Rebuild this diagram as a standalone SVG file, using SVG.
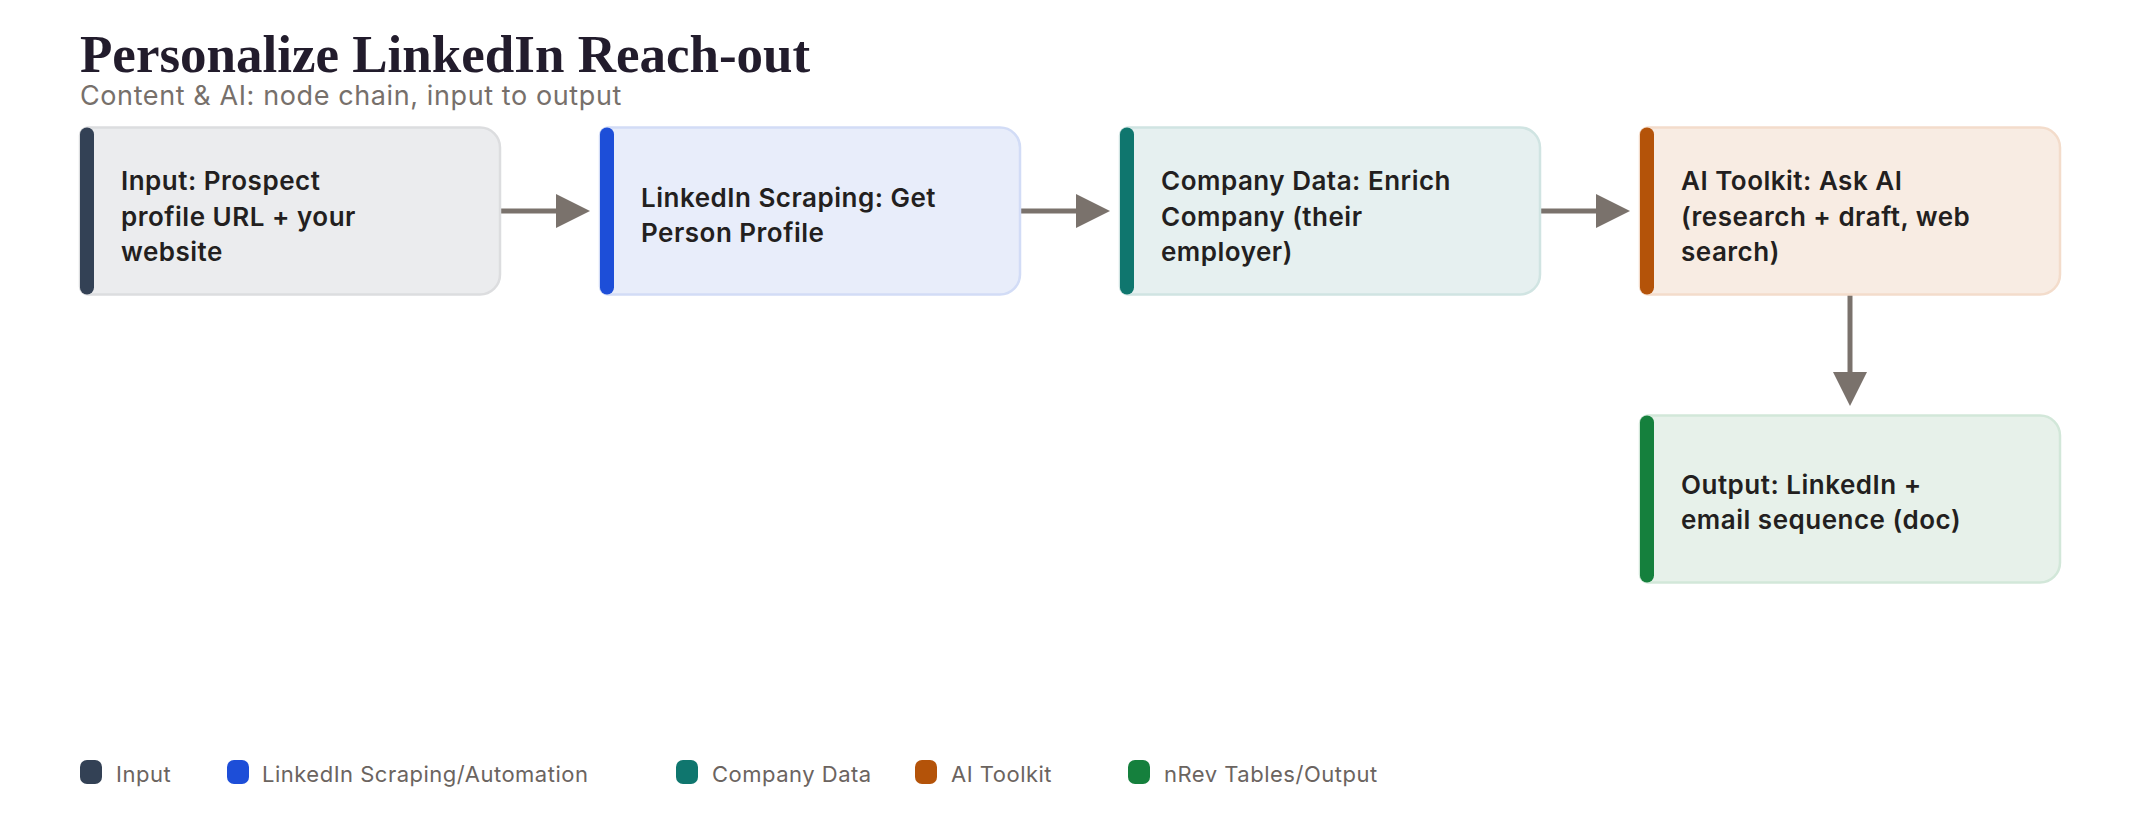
<svg xmlns="http://www.w3.org/2000/svg" width="2140" height="824" viewBox="0 0 2140 824">
  <defs>
    <marker id="ah" markerUnits="userSpaceOnUse" markerWidth="36" markerHeight="36" refX="1" refY="17" orient="auto">
      <path d="M0,0 L34,17 L0,34 Z" fill="#7a726c"/>
    </marker>
    <style>
      .title{font-family:"Liberation Serif","DejaVu Serif",serif;font-weight:700;font-size:53px;fill:#221c2c}
      .sub{font-family:Inter,"Noto Sans",sans-serif;font-size:27px;letter-spacing:0.6px;fill:#77706b}
      .lbl{font-family:Inter,"Noto Sans",sans-serif;font-weight:600;font-size:26px;letter-spacing:0.5px;fill:#231f20}
      .leg{font-family:Inter,"Noto Sans",sans-serif;font-size:22px;letter-spacing:0.5px;fill:#6b645f}
      .edge{stroke:#7a726c;stroke-width:5;fill:none}
      .box{stroke-width:2.5}
    </style>
  </defs>
  <rect width="2140" height="824" fill="#ffffff"/>
  <text class="title" x="80" y="72">Personalize LinkedIn Reach-out</text>
  <text class="sub" x="80" y="105">Content &amp; AI: node chain, input to output</text>

  <g id="connectors">
    <line class="edge" x1="500" y1="211" x2="557" y2="211" marker-end="url(#ah)"/>
    <line class="edge" x1="1020" y1="211" x2="1077" y2="211" marker-end="url(#ah)"/>
    <line class="edge" x1="1540" y1="211" x2="1597" y2="211" marker-end="url(#ah)"/>
    <line class="edge" x1="1850" y1="295" x2="1850" y2="373" marker-end="url(#ah)"/>
  </g>

  <g id="node-input">
    <path class="box" d="M88,127.5 H480 A20,20 0 0 1 500,147.5 V274.5 A20,20 0 0 1 480,294.5 H88 A8,8 0 0 1 80,286.5 V135.5 A8,8 0 0 1 88,127.5 Z" fill="#ebecee" stroke="#dcdddf"/>
    <rect x="80" y="127.5" width="14" height="167" rx="7" fill="#334155"/>
    <text class="lbl" x="121" y="190">Input: Prospect</text>
    <text class="lbl" x="121" y="225.5">profile URL + your</text>
    <text class="lbl" x="121" y="261">website</text>
  </g>

  <g id="node-linkedin">
    <path class="box" d="M608,127.5 H1000 A20,20 0 0 1 1020,147.5 V274.5 A20,20 0 0 1 1000,294.5 H608 A8,8 0 0 1 600,286.5 V135.5 A8,8 0 0 1 608,127.5 Z" fill="#e8edfa" stroke="#d2dcf6"/>
    <rect x="600" y="127.5" width="14" height="167" rx="7" fill="#1d4ed8"/>
    <text class="lbl" x="641" y="206.5">LinkedIn Scraping: Get</text>
    <text class="lbl" x="641" y="241.5">Person Profile</text>
  </g>

  <g id="node-company">
    <path class="box" d="M1128,127.5 H1520 A20,20 0 0 1 1540,147.5 V274.5 A20,20 0 0 1 1520,294.5 H1128 A8,8 0 0 1 1120,286.5 V135.5 A8,8 0 0 1 1128,127.5 Z" fill="#e6f0f0" stroke="#d0e4e2"/>
    <rect x="1120" y="127.5" width="14" height="167" rx="7" fill="#0f766e"/>
    <text class="lbl" x="1161" y="190">Company Data: Enrich</text>
    <text class="lbl" x="1161" y="225.5">Company (their</text>
    <text class="lbl" x="1161" y="261">employer)</text>
  </g>

  <g id="node-ai">
    <path class="box" d="M1648,127.5 H2040 A20,20 0 0 1 2060,147.5 V274.5 A20,20 0 0 1 2040,294.5 H1648 A8,8 0 0 1 1640,286.5 V135.5 A8,8 0 0 1 1648,127.5 Z" fill="#f8ece3" stroke="#f3dccb"/>
    <rect x="1640" y="127.5" width="14" height="167" rx="7" fill="#b45309"/>
    <text class="lbl" x="1681" y="190">AI Toolkit: Ask AI</text>
    <text class="lbl" x="1681" y="225.5">(research + draft, web</text>
    <text class="lbl" x="1681" y="261">search)</text>
  </g>

  <g id="node-output">
    <path class="box" d="M1648,415.5 H2040 A20,20 0 0 1 2060,435.5 V562.5 A20,20 0 0 1 2040,582.5 H1648 A8,8 0 0 1 1640,574.5 V423.5 A8,8 0 0 1 1648,415.5 Z" fill="#e7f1ea" stroke="#d2e7d9"/>
    <rect x="1640" y="415.5" width="14" height="167" rx="7" fill="#15803d"/>
    <text class="lbl" x="1681" y="494">Output: LinkedIn +</text>
    <text class="lbl" x="1681" y="529">email sequence (doc)</text>
  </g>

  <g id="legend">
    <rect x="80" y="760" width="22" height="24" rx="7" fill="#334155"/>
    <text class="leg" x="116" y="782">Input</text>
    <rect x="227" y="760" width="22" height="24" rx="7" fill="#1d4ed8"/>
    <text class="leg" x="262" y="782">LinkedIn Scraping/Automation</text>
    <rect x="676" y="760" width="22" height="24" rx="7" fill="#0f766e"/>
    <text class="leg" x="712" y="782">Company Data</text>
    <rect x="915" y="760" width="22" height="24" rx="7" fill="#b45309"/>
    <text class="leg" x="951" y="782">AI Toolkit</text>
    <rect x="1128" y="760" width="22" height="24" rx="7" fill="#15803d"/>
    <text class="leg" x="1164" y="782">nRev Tables/Output</text>
  </g>
</svg>
